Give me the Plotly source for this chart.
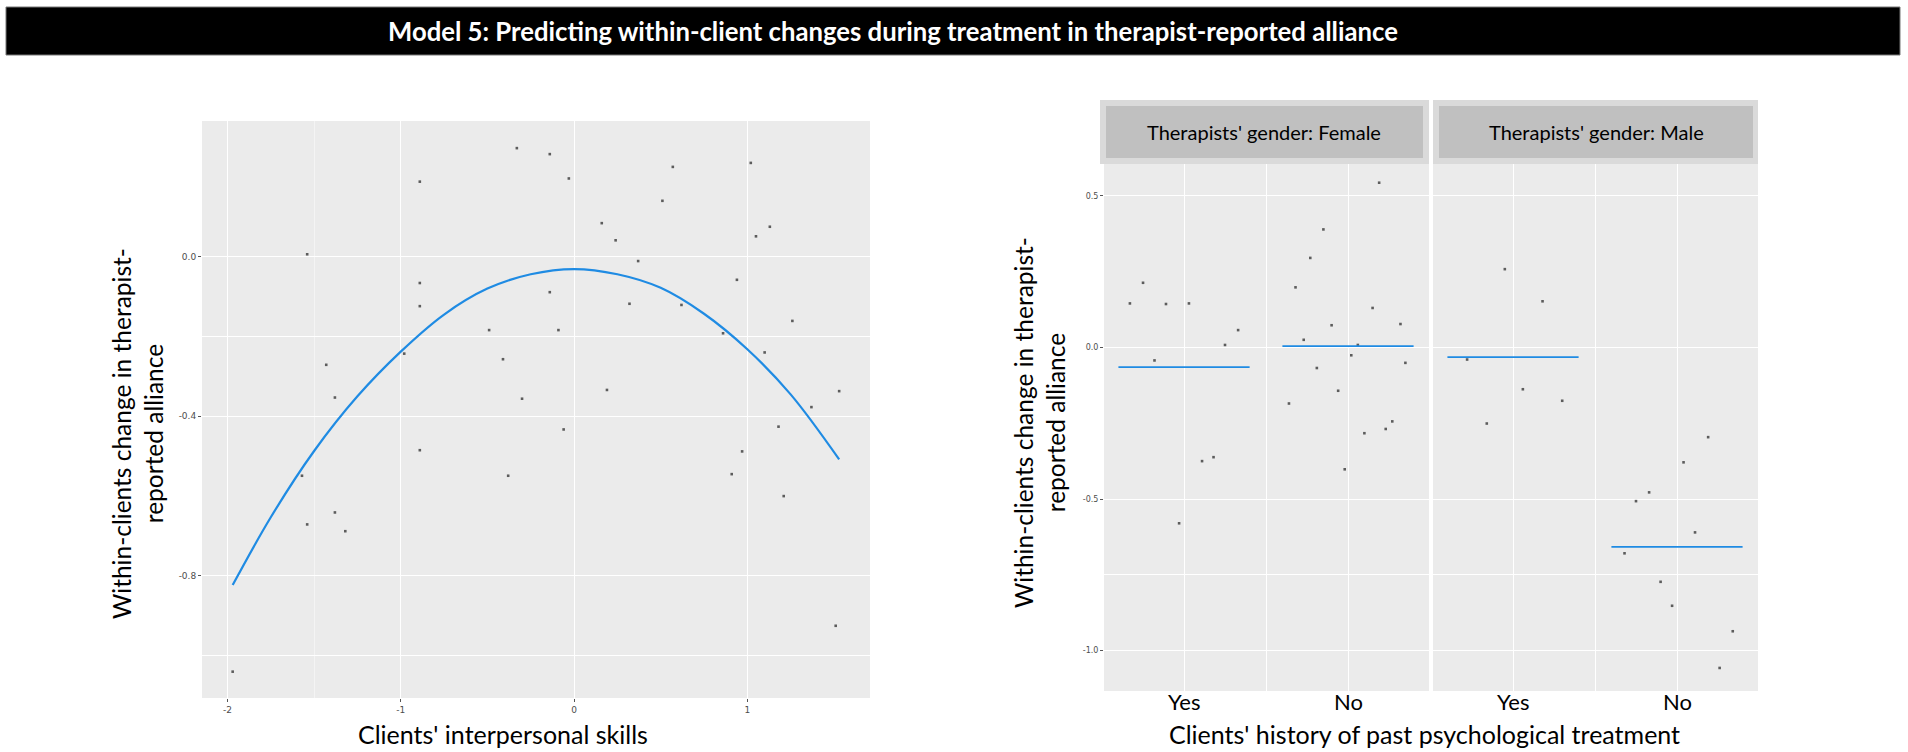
import plotly.graph_objects as go

W, H = 1908, 752

# Model 5 - left panel: clients' interpersonal skills vs within-client change
skills_x = [-0.33, -0.14, -0.89, -0.03, 0.16, 0.24, -1.54, 0.37, -0.89, -0.14,
            -0.89, 0.32, -0.49, -0.09, -0.98, -1.43, -0.41, -1.38, -0.30, 0.19,
            -0.06, -0.89, -1.57, -0.38, -1.38, -1.54, -1.32, 0.57, 1.02, 0.51,
            1.05, 1.13, 0.94, 0.62, 0.86, 1.26, 1.10, 1.53, 1.37, 1.18,
            0.97, 0.91, 1.21, 1.51, -1.97]
skills_y = [0.272, 0.257, 0.188, 0.196, 0.084, 0.041, 0.006, -0.011, -0.066, -0.089,
            -0.124, -0.118, -0.184, -0.184, -0.243, -0.271, -0.257, -0.353, -0.356, -0.334,
            -0.433, -0.485, -0.549, -0.549, -0.641, -0.671, -0.688, 0.225, 0.235, 0.140,
            0.051, 0.075, -0.058, -0.121, -0.192, -0.161, -0.240, -0.337, -0.377, -0.426,
            -0.488, -0.545, -0.600, -0.925, -1.040]

# fitted quadratic curve
curve_x = [-1.97, -1.75, -1.5, -1.25, -1.0, -0.75, -0.5, -0.25, 0.0, 0.25, 0.5, 0.75, 1.0, 1.25, 1.53]
curve_y = [-0.823, -0.653, -0.487, -0.350, -0.238, -0.145, -0.080, -0.044, -0.031,
           -0.044, -0.078, -0.143, -0.232, -0.345, -0.508]

skills_ticks = [-2, -1, 0, 1]
skills_ticktext = ["-2", "-1", "0", "1"]
change_ticks_left = [0.0, -0.4, -0.8]
change_ticktext_left = ["0.0", "-0.4", "-0.8"]

# right panels: past treatment (1 = Yes, 2 = No, jittered) by therapist gender
history_ticks = [1, 2]
history_labels = ["Yes", "No"]
change_ticks_right = [0.5, 0.0, -0.5, -1.0]
change_ticktext_right = ["0.5", "0.0", "-0.5", "-1.0"]

female_yes_x = [0.75, 0.67, 0.89, 1.03, 1.33, 1.25, 0.82, 1.11, 1.18, 0.97]
female_yes_y = [0.213, 0.145, 0.143, 0.145, 0.057, 0.008, -0.043, -0.375, -0.362, -0.580]
female_no_x = [2.19, 1.85, 1.77, 1.68, 2.15, 1.90, 2.32, 1.73, 2.06, 2.02,
               1.81, 2.35, 1.94, 1.64, 2.27, 2.10, 2.23, 1.98]
female_no_y = [0.543, 0.389, 0.295, 0.198, 0.130, 0.073, 0.077, 0.025, 0.008, -0.026,
               -0.068, -0.051, -0.143, -0.185, -0.244, -0.283, -0.269, -0.402]
male_yes_x = [0.95, 1.18, 0.72, 1.06, 1.30, 0.84]
male_yes_y = [0.258, 0.152, -0.040, -0.138, -0.176, -0.251]
male_no_x = [2.19, 2.04, 1.83, 1.75, 2.11, 1.68, 1.90, 1.97, 2.34, 2.26]
male_no_y = [-0.296, -0.379, -0.478, -0.507, -0.610, -0.679, -0.773, -0.852, -0.936, -1.057]

female_means = [-0.065, 0.004]
male_means = [-0.032, -0.658]
panel_names = ["Therapists' gender: Female", "Therapists' gender: Male"]


def fx(p):
    return p / W


def fy(p):
    return 1 - p / H


BLUE = "#1f8be3"
DOT = "#5c5c5c"
PANEL = "#ebebeb"
FONT = "Lato"

fig = go.Figure()

fig.add_trace(go.Scatter(x=skills_x, y=skills_y, mode="markers",
                         marker=dict(size=2.6, color=DOT, symbol="square"),
                         xaxis="x", yaxis="y", showlegend=False))
fig.add_trace(go.Scatter(x=curve_x, y=curve_y, mode="lines", line_shape="spline",
                         line=dict(color=BLUE, width=2.2, smoothing=1.0),
                         xaxis="x", yaxis="y", showlegend=False))

groups = [
    ("x2", "y2", female_yes_x, female_yes_y, female_no_x, female_no_y, female_means),
    ("x3", "y3", male_yes_x, male_yes_y, male_no_x, male_no_y, male_means),
]
for xa, ya, yx, yy, nx, ny, means in groups:
    fig.add_trace(go.Scatter(x=yx + nx, y=yy + ny, mode="markers",
                             marker=dict(size=2.6, color=DOT, symbol="square"),
                             xaxis=xa, yaxis=ya, showlegend=False))
    for pos, m in zip(history_ticks, means):
        fig.add_trace(go.Scatter(x=[pos - 0.4, pos + 0.4], y=[m, m], mode="lines",
                                 line=dict(color=BLUE, width=1.8),
                                 xaxis=xa, yaxis=ya, showlegend=False))

small_tick = dict(size=9, color="#4d4d4d", family="DejaVu Sans")
common = dict(showgrid=True, gridcolor="white", gridwidth=1.3, zeroline=False,
              showline=False, ticks="outside", ticklen=3, tickcolor="#555")
facet_x = dict(range=[0.512, 2.494], tickmode="array", tickvals=history_ticks,
               showticklabels=False, showgrid=True, gridcolor="white", gridwidth=1.3,
               zeroline=False, showline=False, ticks="",
               minor=dict(tickmode="array", tickvals=[1.5], showgrid=True,
                          gridcolor="white", gridwidth=1.3, ticks=""))

fig.update_layout(
    width=W, height=H, autosize=False,
    margin=dict(l=0, r=0, t=0, b=0),
    paper_bgcolor="white", plot_bgcolor=PANEL,
    font=dict(family=FONT, color="black"),
    xaxis=dict(domain=[fx(202), fx(870)], range=[-2.147, 1.708], anchor="y",
               tickmode="array", tickvals=skills_ticks, ticktext=skills_ticktext,
               tickfont=small_tick,
               minor=dict(tickmode="array", tickvals=[-1.5], showgrid=True,
                          gridcolor="#f4f4f4", gridwidth=0.8, ticks=""),
               **common),
    yaxis=dict(domain=[fy(698), fy(121)], range=[-1.106, 0.340], anchor="x",
               tickmode="array", tickvals=change_ticks_left, ticktext=change_ticktext_left,
               tickfont=small_tick,
               minor=dict(tickmode="array", tickvals=[-0.2, -1.0], showgrid=True,
                          gridcolor="white", gridwidth=1.2, ticks=""),
               **common),
    xaxis2=dict(domain=[fx(1104), fx(1429)], anchor="y2", **facet_x),
    yaxis2=dict(domain=[fy(691), fy(163)], range=[-1.133, 0.608], anchor="x2",
                tickmode="array", tickvals=change_ticks_right, ticktext=change_ticktext_right,
                tickfont=dict(size=8, color="#4d4d4d", family="DejaVu Sans"),
                minor=dict(tickmode="array", tickvals=[-0.75], showgrid=True,
                           gridcolor="white", gridwidth=1.0, ticks=""),
                **common),
    xaxis3=dict(domain=[fx(1433), fx(1758)], anchor="y3", **facet_x),
    yaxis3=dict(domain=[fy(691), fy(163)], range=[-1.133, 0.608], anchor="x3",
                matches="y2", tickmode="array", tickvals=change_ticks_right,
                showticklabels=False,
                minor=dict(tickmode="array", tickvals=[-0.75], showgrid=True,
                           gridcolor="white", gridwidth=1.0, ticks=""),
                showgrid=True, gridcolor="white", gridwidth=1.3, zeroline=False,
                showline=False, ticks=""),
)

shapes = [
    # title banner
    dict(type="rect", xref="paper", yref="paper", x0=fx(6), x1=fx(1900), y0=fy(55), y1=fy(7),
         fillcolor="black", line=dict(color="#777", width=1), layer="below"),
]
# facet strips
for ox0, ox1, ix0, ix1 in [(1100, 1429, 1106, 1423), (1433, 1758, 1439, 1753)]:
    shapes.append(dict(type="rect", xref="paper", yref="paper", x0=fx(ox0), x1=fx(ox1),
                       y0=fy(164), y1=fy(100), fillcolor="#dadada", line=dict(width=0)))
    shapes.append(dict(type="rect", xref="paper", yref="paper", x0=fx(ix0), x1=fx(ix1),
                       y0=fy(158), y1=fy(106), fillcolor="#c0c0c0", line=dict(width=0)))
fig.update_layout(shapes=shapes)

annotations = [
    dict(text="<b>Model 5: Predicting within-client changes during treatment in therapist-reported alliance</b>",
         x=fx(893), y=fy(31), font=dict(size=25.7, color="white", family=FONT)),
    dict(text="Within-clients change in therapist-<br>reported alliance", textangle=-90,
         x=fx(137), y=fy(434), font=dict(size=24.5, color="black", family=FONT)),
    dict(text="Within-clients change in therapist-<br>reported alliance", textangle=-90,
         x=fx(1039), y=fy(423), font=dict(size=24.5, color="black", family=FONT)),
    dict(text="Clients' interpersonal skills", x=fx(503), y=fy(734),
         font=dict(size=25, color="black", family=FONT)),
    dict(text="Clients' history of past psychological treatment", x=fx(1424), y=fy(734),
         font=dict(size=25, color="black", family=FONT)),
    dict(text=panel_names[0], x=fx(1264), y=fy(132), font=dict(size=20, color="black", family=FONT)),
    dict(text=panel_names[1], x=fx(1596), y=fy(132), font=dict(size=20, color="black", family=FONT)),
]
for a in annotations:
    a.update(xref="paper", yref="paper")
# category labels under each facet, placed through the facet x axes
for xa in ["x2", "x3"]:
    for pos, lab in zip(history_ticks, history_labels):
        annotations.append(dict(text=lab, xref=xa, x=pos, yref="paper", y=fy(701),
                                font=dict(size=22, color="black", family=FONT)))
for a in annotations:
    a.update(showarrow=False, xanchor="center", yanchor="middle")
fig.update_layout(annotations=annotations)

fig.write_html("out.html", config={"displayModeBar": False},
               post_script="document.body.style.margin='0';")
